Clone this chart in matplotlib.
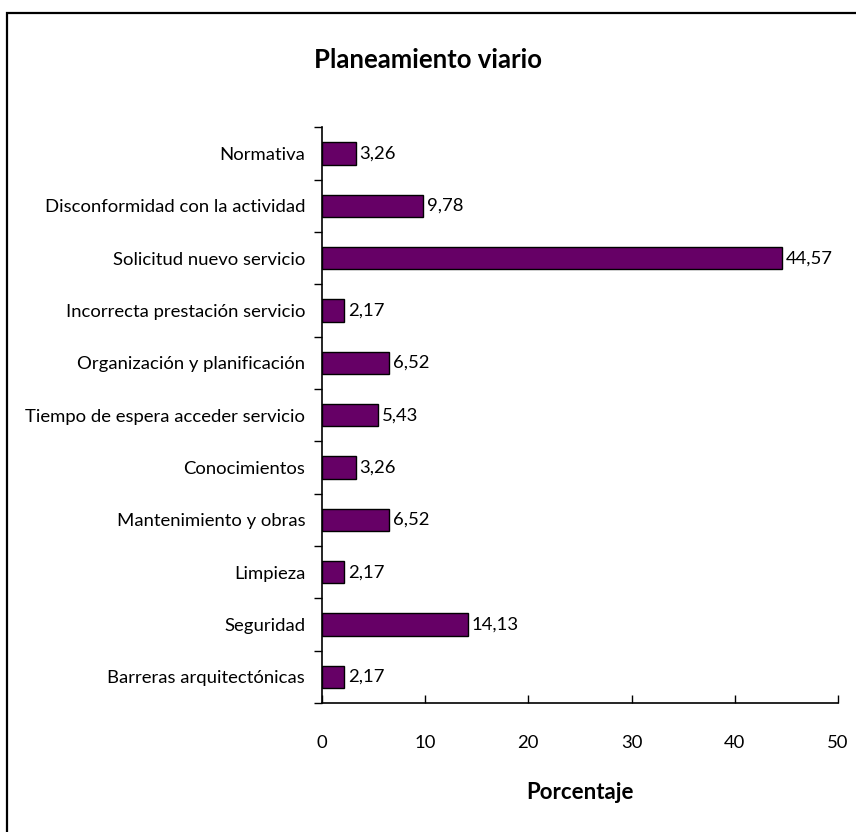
import matplotlib.pyplot as plt
import matplotlib.patches as patches
import numpy as np

plt.rcParams['font.family'] = ['Lato', 'DejaVu Sans']

# data (top to bottom as shown)
categories = ['Normativa', 'Disconformidad con la actividad', 'Solicitud nuevo servicio',
              'Incorrecta prestación servicio', 'Organización y planificación',
              'Tiempo de espera acceder servicio', 'Conocimientos', 'Mantenimiento y obras',
              'Limpieza', 'Seguridad', 'Barreras arquitectónicas']
values = [3.26, 9.78, 44.57, 2.17, 6.52, 5.43, 3.26, 6.52, 2.17, 14.13, 2.17]
xticks = [0, 10, 20, 30, 40, 50]

fig = plt.figure(figsize=(8.56, 8.32), dpi=100)
ax = fig.add_axes([0.376, 0.155, 0.603, 0.692])

n = len(categories)
ypos = np.arange(n)[::-1]
ax.barh(ypos, values, height=0.43, color='#660066', edgecolor='black', linewidth=1)

for y, v in zip(ypos, values):
    ax.text(v + 0.4, y, f'{v:.2f}'.replace('.', ','), va='center', ha='left', fontsize=13.3)

ax.set_xlim(0, 50)
ax.set_ylim(-0.5, n - 0.5)
ax.set_yticks(ypos)
ax.set_yticklabels(categories, fontsize=13.3)
ax.set_yticks(np.arange(n + 1) - 0.5, minor=True)
ax.tick_params(axis='y', which='major', length=0, pad=12)
ax.tick_params(axis='y', which='minor', length=6, direction='out', width=1)
ax.set_xticks(xticks)
ax.set_xticklabels([str(t) for t in xticks], fontsize=13.3)
ax.tick_params(axis='x', direction='in', length=6, width=1, pad=23)

for s in ['top', 'right']:
    ax.spines[s].set_visible(False)
for s in ['left', 'bottom']:
    ax.spines[s].set_linewidth(1.2)

ax.set_xlabel('Porcentaje', fontsize=16, fontweight='bold', labelpad=22)
fig.text(0.5, 0.928, 'Planeamiento viario', ha='center', va='center',
         fontsize=18.5, fontweight='bold')

# outer frame
fig.patches.append(patches.Rectangle((7 / 856, -0.05), 1.1, 1 - 13 / 832 + 0.05,
                                     transform=fig.transFigure, fill=False,
                                     edgecolor='black', linewidth=1.6, clip_on=False))

fig.savefig('out.png', dpi=100)
